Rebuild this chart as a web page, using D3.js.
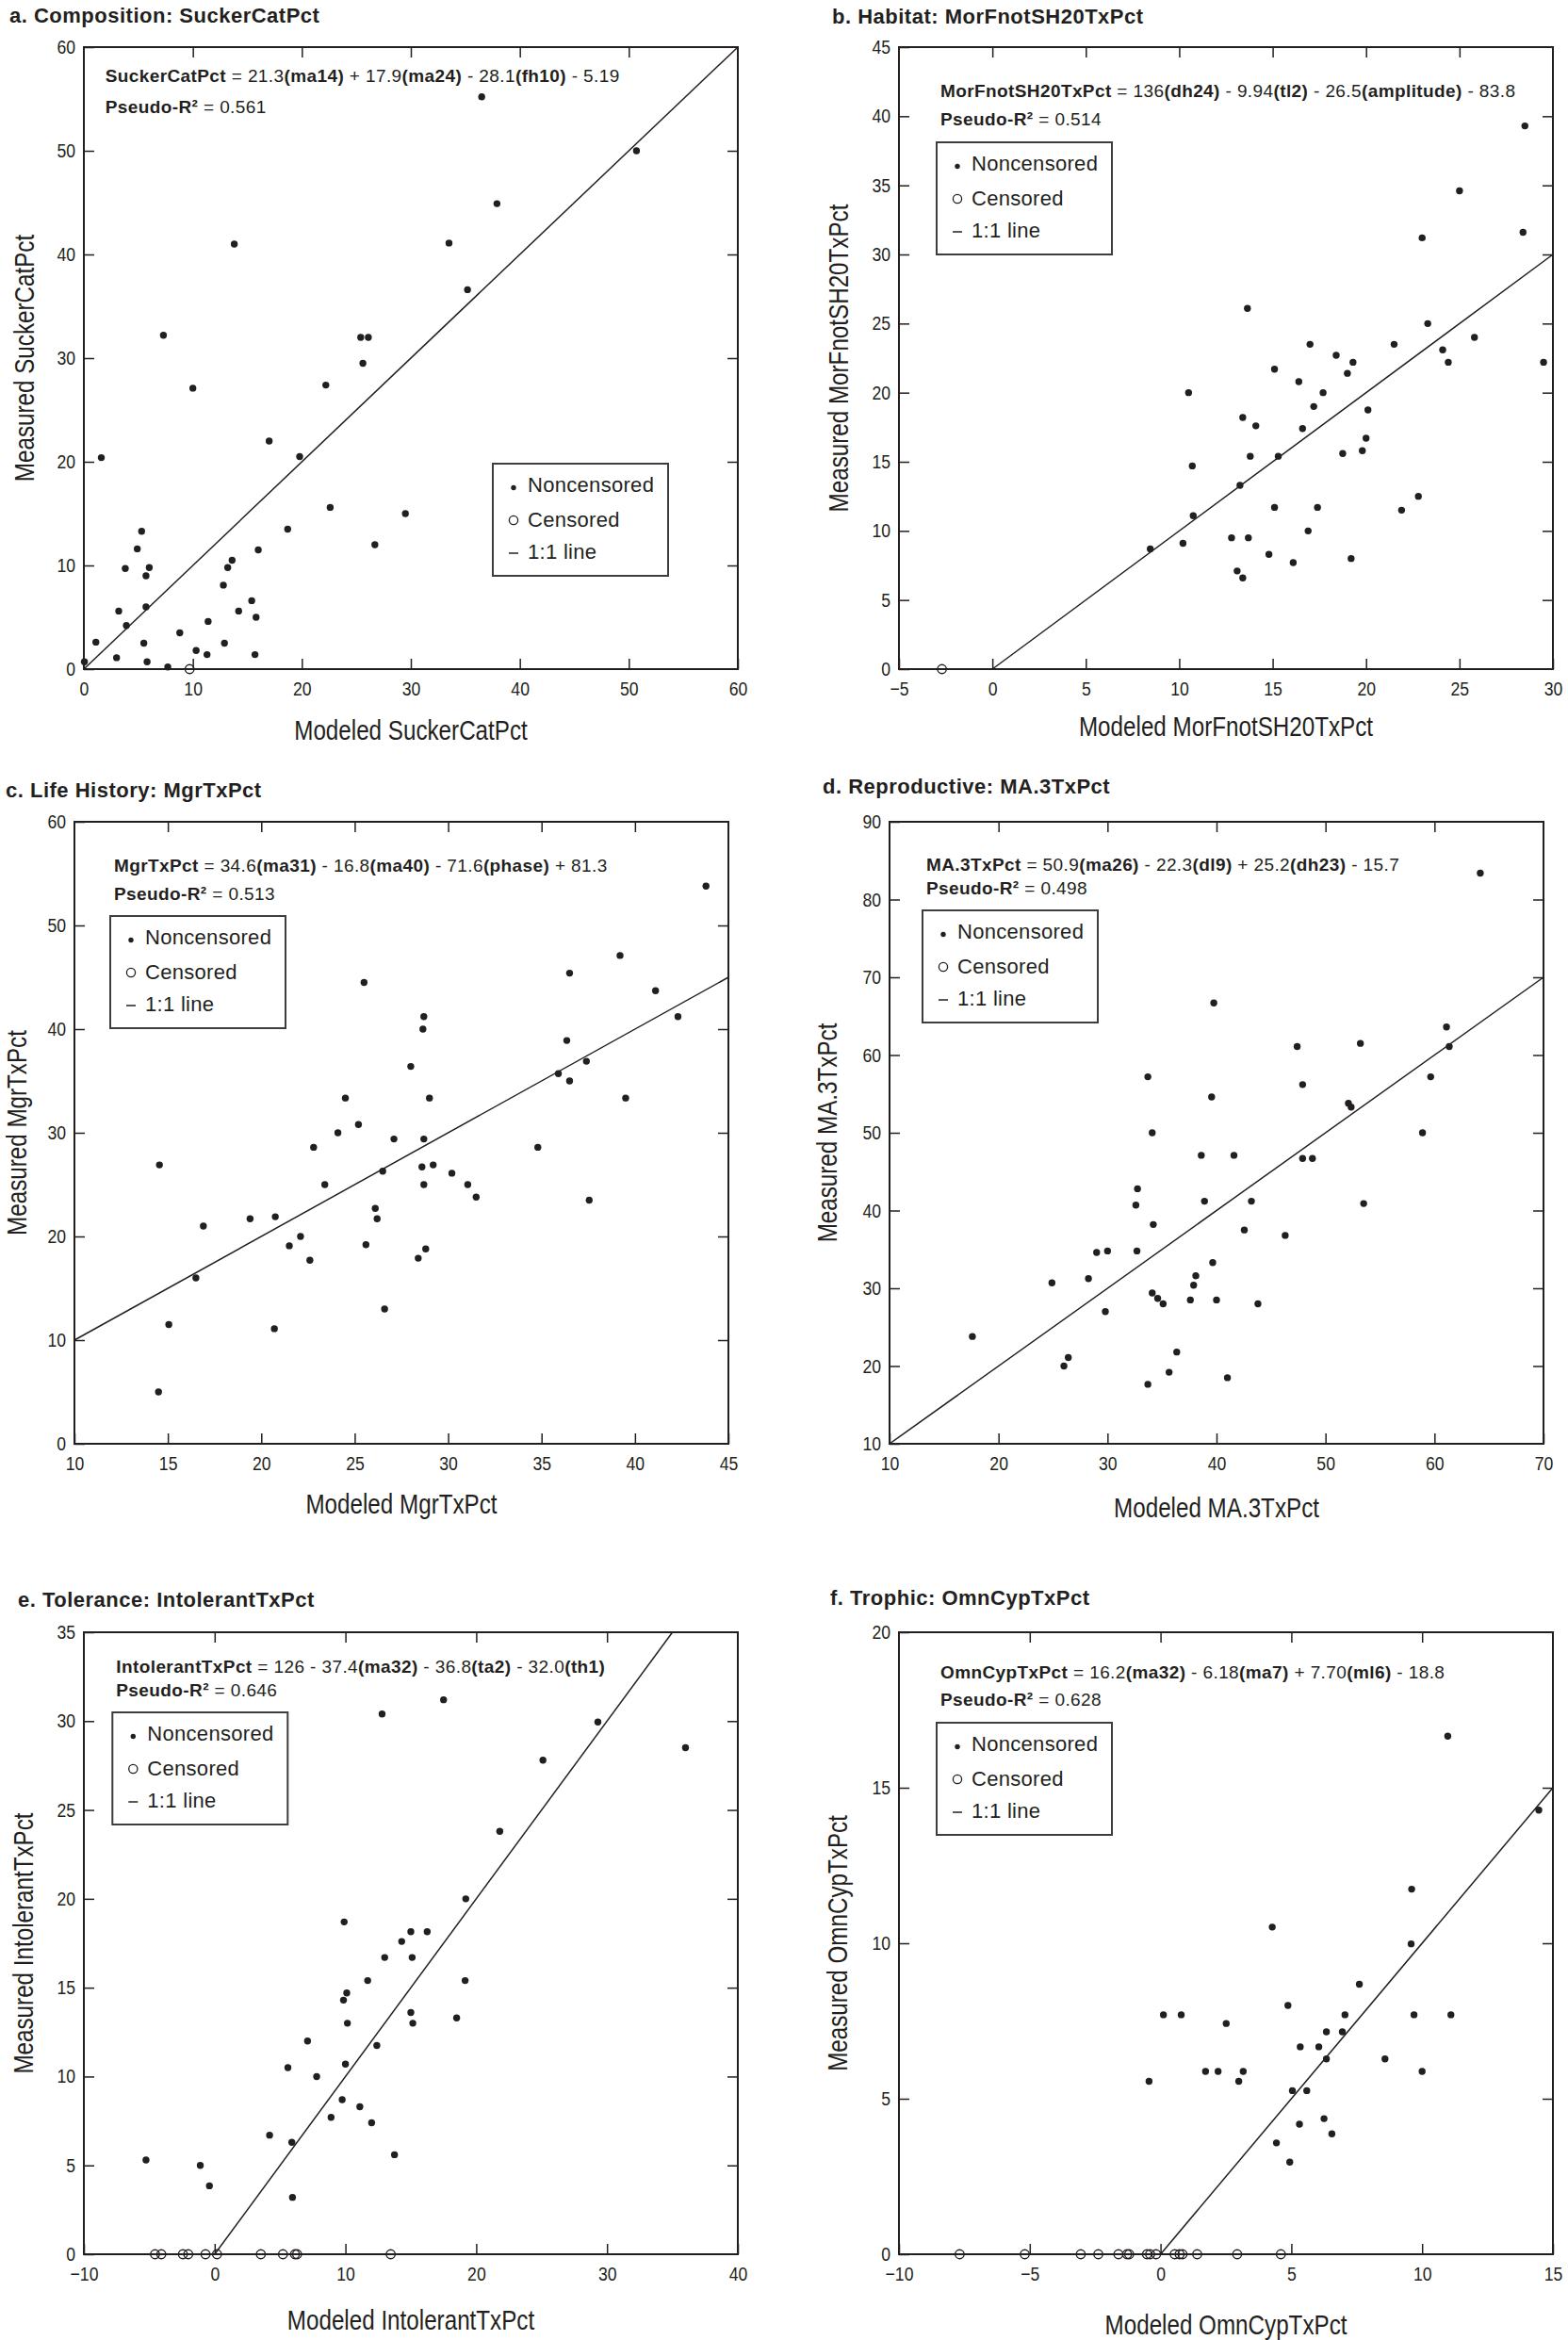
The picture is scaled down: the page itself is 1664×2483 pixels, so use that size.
<!DOCTYPE html>
<html>
<head>
<meta charset="utf-8">
<script src="https://cdn.jsdelivr.net/npm/d3@7"></script>
<style>
  body { margin: 0; background: #fff; }
  svg text { font-family: "Liberation Sans", Arial, Helvetica, sans-serif; fill: #231f20; white-space: pre; }
</style>
</head>
<body>
<div class="canvas"></div>
<script>
// ---------- data ----------
// a. Composition: SuckerCatPct
const aModeled  = [36.5, 50.7, 37.9, 33.5, 13.8, 35.2, 7.3, 25.4, 26.1, 25.6, 10.0, 22.2, 17.0, 19.8, 1.6, 22.6, 29.5, 18.7, 5.3, 26.7, 4.9, 16.0, 13.6, 3.8, 6.0, 5.7, 13.2, 12.8, 3.2, 5.7, 15.4, 14.2, 15.8, 3.9, 11.4, 8.8, 1.1, 5.5, 12.9, 10.3, 11.3, 3.0, 15.7, 5.8, 7.7, 0.05];
const aMeasured = [55.2, 50.0, 44.9, 41.1, 41.0, 36.6, 32.2, 32.0, 32.0, 29.5, 27.1, 27.4, 22.0, 20.5, 20.4, 15.6, 15.0, 13.5, 13.3, 12.0, 11.6, 11.5, 10.5, 9.7, 9.8, 9.0, 9.8, 8.1, 5.6, 6.0, 6.6, 5.6, 5.0, 4.2, 4.6, 3.5, 2.6, 2.5, 2.5, 1.8, 1.4, 1.1, 1.4, 0.7, 0.2, 0.7];
const aCensored = [9.7];
const aXTicks = [0, 10, 20, 30, 40, 50, 60];
const aYTicks = [0, 10, 20, 30, 40, 50, 60];

// b. Habitat: MorFnotSH20TxPct
const bModeled  = [28.5, 25.0, 28.4, 23.0, 13.65, 23.3, 25.8, 17.0, 21.5, 18.4, 24.1, 24.4, 19.3, 29.5, 15.1, 19.0, 16.4, 10.5, 17.7, 17.2, 20.1, 13.4, 14.1, 16.6, 20.0, 18.75, 19.8, 13.8, 15.3, 10.7, 13.25, 22.8, 15.1, 17.4, 21.9, 10.75, 16.9, 12.8, 13.7, 10.2, 8.45, 14.8, 19.2, 16.1, 13.1, 13.4];
const bMeasured = [39.3, 34.6, 31.6, 31.2, 26.1, 25.0, 24.0, 23.5, 23.5, 22.7, 23.1, 22.2, 22.2, 22.2, 21.7, 21.4, 20.8, 20.0, 20.0, 19.0, 18.75, 18.2, 17.6, 17.4, 16.7, 15.6, 15.8, 15.4, 15.4, 14.7, 13.3, 12.5, 11.7, 11.7, 11.5, 11.1, 10.0, 9.5, 9.5, 9.1, 8.7, 8.3, 8.0, 7.7, 7.1, 6.6];
const bCensored = [-2.7];
const bXTicks = [-5, 0, 5, 10, 15, 20, 25, 30];
const bYTicks = [0, 5, 10, 15, 20, 25, 30, 35, 40, 45];

// c. Life History: MgrTxPct
const cModeled  = [43.8, 39.2, 36.5, 25.5, 41.1, 42.3, 28.7, 28.65, 36.35, 37.4, 28.0, 35.9, 36.5, 24.5, 29.0, 39.5, 25.2, 24.1, 27.1, 28.7, 22.8, 34.8, 14.55, 29.2, 28.6, 26.5, 30.2, 23.4, 28.7, 31.05, 31.5, 37.55, 26.1, 19.4, 20.75, 26.2, 16.9, 22.1, 21.5, 25.6, 22.6, 28.4, 28.8, 16.5, 15.05, 20.7, 26.6, 14.5];
const cMeasured = [53.8, 47.1, 45.4, 44.5, 43.7, 41.2, 41.2, 40.0, 38.9, 36.9, 36.4, 35.7, 35.0, 33.35, 33.35, 33.35, 30.8, 30.0, 29.4, 29.4, 28.6, 28.6, 26.9, 26.9, 26.7, 26.3, 26.1, 25.0, 25.0, 25.0, 23.8, 23.5, 22.7, 21.7, 21.9, 21.7, 21.0, 20.0, 19.1, 19.2, 17.7, 17.9, 18.8, 16.0, 11.5, 11.1, 13.0, 5.0];
const cCensored = [];
const cXTicks = [10, 15, 20, 25, 30, 35, 40, 45];
const cYTicks = [0, 10, 20, 30, 40, 50, 60];

// d. Reproductive: MA.3TxPct
const dModeled  = [64.2, 39.75, 61.1, 53.2, 47.4, 61.35, 33.7, 59.65, 47.9, 39.55, 52.1, 52.35, 34.1, 58.9, 38.6, 41.6, 47.9, 48.8, 32.75, 32.6, 38.9, 43.2, 53.5, 34.2, 42.55, 46.3, 29.0, 30.0, 32.7, 39.65, 24.9, 28.25, 38.1, 37.9, 34.1, 34.6, 35.1, 37.6, 40.0, 43.8, 29.8, 17.6, 26.4, 26.0, 36.35, 35.65, 41.0, 33.7];
const dMeasured = [83.4, 66.7, 63.6, 61.5, 61.1, 61.1, 57.2, 57.2, 56.2, 54.6, 53.8, 53.3, 50.0, 50.0, 47.1, 47.1, 46.7, 46.7, 42.8, 40.7, 41.2, 41.2, 40.9, 38.2, 37.5, 36.8, 34.6, 34.8, 34.8, 33.3, 30.7, 31.25, 31.6, 30.4, 29.4, 28.7, 28.0, 28.5, 28.5, 28.0, 27.0, 23.8, 21.1, 20.0, 21.8, 19.2, 18.5, 17.65];
const dCensored = [];
const dXTicks = [10, 20, 30, 40, 50, 60, 70];
const dYTicks = [10, 20, 30, 40, 50, 60, 70, 80, 90];

// e. Tolerance: IntolerantTxPct
const eModeled  = [17.5, 12.8, 29.3, 36.0, 25.1, 21.8, 19.2, 9.9, 15.0, 16.25, 14.3, 13.0, 15.1, 11.7, 19.15, 10.1, 9.85, 15.0, 18.5, 10.15, 15.15, 7.1, 12.4, 5.6, 7.8, 10.0, 9.75, 11.1, 8.9, 12.0, 4.2, 5.9, 13.75, -5.25, -1.1, -0.4, 5.95];
const eMeasured = [31.2, 30.4, 29.95, 28.5, 27.8, 23.8, 20.0, 18.7, 18.15, 18.15, 17.6, 16.7, 16.7, 15.4, 15.4, 14.7, 14.3, 13.6, 13.3, 13.0, 13.0, 12.0, 11.75, 10.5, 10.0, 10.7, 8.7, 8.3, 7.7, 7.4, 6.7, 6.3, 5.6, 5.3, 5.0, 3.85, 3.2];
const eCensored = [-4.56, -4.08, -2.43, -2.02, -0.7, 0.18, 3.53, 5.22, 6.14, 6.3, 13.46];
const eXTicks = [-10, 0, 10, 20, 30, 40];
const eYTicks = [0, 5, 10, 15, 20, 25, 30, 35];

// f. Trophic: OmnCypTxPct
const fModeled  = [10.98, 14.46, 9.6, 4.27, 9.58, 7.6, 4.87, 0.11, 0.79, 7.05, 9.69, 11.1, 2.51, 6.34, 6.95, 5.34, 6.05, 6.34, 8.58, 1.72, 2.2, 3.16, 10.0, -0.44, 2.99, 5.04, 5.59, 6.25, 5.31, 6.55, 4.43, 4.94];
const fMeasured = [16.66, 14.28, 11.74, 10.52, 9.98, 8.68, 8.0, 7.7, 7.7, 7.7, 7.7, 7.7, 7.42, 7.15, 7.15, 6.67, 6.67, 6.28, 6.28, 5.88, 5.88, 5.88, 5.88, 5.56, 5.56, 5.26, 5.26, 4.36, 4.18, 3.87, 3.58, 2.96];
const fCensored = [-7.68, -5.19, -3.05, -2.38, -1.61, -1.28, -1.2, -0.52, -0.4, -0.17, 0.54, 0.73, 0.84, 1.40, 2.93, 4.60];
const fXTicks = [-10, -5, 0, 5, 10, 15];
const fYTicks = [0, 5, 10, 15, 20];

// texts (** marks bold)
const titles = ['a. Composition: SuckerCatPct', 'b. Habitat: MorFnotSH20TxPct', 'c. Life History: MgrTxPct',
                'd. Reproductive: MA.3TxPct', 'e. Tolerance: IntolerantTxPct', 'f. Trophic: OmnCypTxPct'];
const equations = [
  '**SuckerCatPct** = 21.3**(ma14)** + 17.9**(ma24)** - 28.1**(fh10)** - 5.19',
  '**MorFnotSH20TxPct** = 136**(dh24)** - 9.94**(tl2)** - 26.5**(amplitude)** - 83.8',
  '**MgrTxPct** = 34.6**(ma31)** - 16.8**(ma40)** - 71.6**(phase)** + 81.3',
  '**MA.3TxPct** = 50.9**(ma26)** - 22.3**(dl9)** + 25.2**(dh23)** - 15.7',
  '**IntolerantTxPct** = 126 - 37.4**(ma32)** - 36.8**(ta2)** - 32.0**(th1)**',
  '**OmnCypTxPct** = 16.2**(ma32)** - 6.18**(ma7)** + 7.70**(ml6)** - 18.8'
];
const pseudoR2 = ['0.561', '0.514', '0.513', '0.498', '0.646', '0.628'];
const varNames = ['SuckerCatPct', 'MorFnotSH20TxPct', 'MgrTxPct', 'MA.3TxPct', 'IntolerantTxPct', 'OmnCypTxPct'];
const legendLabels = ['Noncensored', 'Censored', '1:1 line'];

// ---------- layout ----------
const svg = d3.select('.canvas')
  .append('svg')
    .attr('width', 1664)
    .attr('height', 2483);

svg.append('rect').attr('width', 1664).attr('height', 2483).attr('fill', '#fff');

const ink = '#231f20';
const plotW = 694, plotH = 660;

const panels = [
  {xs: aModeled, ys: aMeasured, cens: aCensored, xTicks: aXTicks, yTicks: aYTicks,
   left: 89, top: 50, titleX: 10, titleY: 23.5, eqX: 22.7, eqY: 36.7, r2Y: 69.5, legX: 434, legY: 442, xLabDy: 75, yLabDx: -63},
  {xs: bModeled, ys: bMeasured, cens: bCensored, xTicks: bXTicks, yTicks: bYTicks,
   left: 954, top: 50, titleX: 883, titleY: 25, eqX: 44, eqY: 52.5, r2Y: 83, legX: 40, legY: 101, xLabDy: 71, yLabDx: -64},
  {xs: cModeled, ys: cMeasured, cens: cCensored, xTicks: cXTicks, yTicks: cYTicks,
   left: 79, top: 872, titleX: 6, titleY: 846, eqX: 42, eqY: 53, r2Y: 83, legX: 38, legY: 100, xLabDy: 74, yLabDx: -61},
  {xs: dModeled, ys: dMeasured, cens: dCensored, xTicks: dXTicks, yTicks: dYTicks,
   left: 944, top: 872, titleX: 873, titleY: 842, eqX: 39, eqY: 52, r2Y: 77, legX: 35, legY: 94, xLabDy: 78, yLabDx: -66},
  {xs: eModeled, ys: eMeasured, cens: eCensored, xTicks: eXTicks, yTicks: eYTicks,
   left: 89, top: 1732, titleX: 19, titleY: 1705, eqX: 34.3, eqY: 42.6, r2Y: 68, legX: 30.3, legY: 85, xLabDy: 80, yLabDx: -64},
  {xs: fModeled, ys: fMeasured, cens: fCensored, xTicks: fXTicks, yTicks: fYTicks,
   left: 954, top: 1732, titleX: 881, titleY: 1703, eqX: 44, eqY: 48.5, r2Y: 78, legX: 40, legY: 96, xLabDy: 85, yLabDx: -65}
];

// text with **bold** segments
function richText(sel, str) {
  str.split('**').forEach((s, i) => {
    if (s) sel.append('tspan').attr('font-weight', i % 2 ? 'bold' : 'normal').text(s);
  });
}

// horizontally condensed tick labels
function condense(sel, k) {
  sel.each(function() {
    const t = d3.select(this);
    const x = +t.attr('x') || 0;
    t.attr('x', x / k).attr('transform', `scale(${k},1)`);
  });
}

panels.forEach((p, i) => {
  // title
  svg.append('text')
    .attr('x', p.titleX)
    .attr('y', p.titleY)
    .attr('font-size', 22)
    .attr('font-weight', 'bold')
    .attr('letter-spacing', 0.5)
    .text(titles[i]);

  const graph = svg.append('g')
    .attr('transform', `translate(${p.left},${p.top})`);

  const x = d3.scaleLinear().domain(d3.extent(p.xTicks)).range([0, plotW]);
  const y = d3.scaleLinear().domain(d3.extent(p.yTicks)).range([plotH, 0]);

  // axes, ticks pointing inward on all sides
  const styleAxis = g => {
    g.select('.domain').remove();
    g.selectAll('.tick line').attr('stroke', ink).attr('stroke-width', 1.5);
    g.selectAll('.tick text').attr('fill', ink).attr('font-size', 20.5)
      .attr('font-family', '"Liberation Sans", Arial, sans-serif');
  };

  const xAxisGroup = graph.append('g').attr('transform', `translate(0,${plotH})`)
    .call(d3.axisBottom(x).tickValues(p.xTicks).tickSizeInner(-11).tickSizeOuter(0).tickPadding(13.5))
    .call(styleAxis);
  const yAxisGroup = graph.append('g')
    .call(d3.axisLeft(y).tickValues(p.yTicks).tickSizeInner(-11).tickSizeOuter(0).tickPadding(9))
    .call(styleAxis);
  graph.append('g')
    .call(d3.axisTop(x).tickValues(p.xTicks.slice(1, -1)).tickSizeInner(-11).tickSizeOuter(0).tickFormat(''))
    .call(styleAxis);
  graph.append('g').attr('transform', `translate(${plotW},0)`)
    .call(d3.axisRight(y).tickValues(p.yTicks.slice(1, -1)).tickSizeInner(-11).tickSizeOuter(0).tickFormat(''))
    .call(styleAxis);

  condense(xAxisGroup.selectAll('.tick text'), 0.86);
  condense(yAxisGroup.selectAll('.tick text'), 0.86);

  // 1:1 line
  const lo = Math.max(x.domain()[0], y.domain()[0]);
  const hi = Math.min(x.domain()[1], y.domain()[1]);
  graph.append('line')
    .attr('x1', x(lo)).attr('y1', y(lo))
    .attr('x2', x(hi)).attr('y2', y(hi))
    .attr('stroke', ink)
    .attr('stroke-width', 1.5);

  // noncensored points
  graph.selectAll('circle.nc')
    .data(p.xs.map((v, j) => ({m: v, o: p.ys[j]})))
    .enter()
    .append('circle')
      .attr('class', 'nc')
      .attr('cx', d => x(d.m))
      .attr('cy', d => y(d.o))
      .attr('r', 3.7)
      .attr('fill', ink);

  // censored points (measured = 0)
  graph.selectAll('circle.cens')
    .data(p.cens)
    .enter()
    .append('circle')
      .attr('class', 'cens')
      .attr('cx', d => x(d))
      .attr('cy', y(0))
      .attr('r', 4.7)
      .attr('fill', 'none')
      .attr('stroke', ink)
      .attr('stroke-width', 1.4);

  // frame
  graph.append('rect')
    .attr('width', plotW)
    .attr('height', plotH)
    .attr('fill', 'none')
    .attr('stroke', ink)
    .attr('stroke-width', 2);

  // equation + pseudo R2
  const eq = graph.append('text')
    .attr('x', p.eqX).attr('y', p.eqY)
    .attr('font-size', 19)
    .attr('letter-spacing', 0.4);
  richText(eq, equations[i]);
  const r2 = graph.append('text')
    .attr('x', p.eqX).attr('y', p.r2Y)
    .attr('font-size', 19)
    .attr('letter-spacing', 0.4);
  richText(r2, '**Pseudo-R\u00B2** = ' + pseudoR2[i]);

  // legend
  const leg = graph.append('g').attr('transform', `translate(${p.legX},${p.legY})`);
  leg.append('rect')
    .attr('width', 186).attr('height', 119)
    .attr('fill', '#fff')
    .attr('stroke', '#3d3d3d')
    .attr('stroke-width', 2);
  leg.append('circle').attr('cx', 22).attr('cy', 25.5).attr('r', 2.7).attr('fill', ink);
  leg.append('circle').attr('cx', 22).attr('cy', 60).attr('r', 4.6)
    .attr('fill', 'none').attr('stroke', ink).attr('stroke-width', 1.3);
  leg.append('line').attr('x1', 17).attr('x2', 27).attr('y1', 95).attr('y2', 95)
    .attr('stroke', ink).attr('stroke-width', 1.5);
  leg.selectAll('text')
    .data(legendLabels)
    .enter()
    .append('text')
      .attr('x', 37)
      .attr('y', (d, j) => [29.5, 66.7, 101][j])
      .attr('font-size', 22)
      .attr('letter-spacing', 0.3)
      .text(d => d);

  // axis titles (condensed face)
  graph.append('text')
    .attr('transform', `translate(${plotW / 2},${plotH + p.xLabDy}) scale(0.835,1)`)
    .attr('text-anchor', 'middle')
    .attr('font-size', 29)
    .text('Modeled ' + varNames[i]);
  graph.append('text')
    .attr('transform', `translate(${p.yLabDx},${plotH / 2}) rotate(-90) scale(0.835,1)`)
    .attr('text-anchor', 'middle')
    .attr('dy', '0.36em')
    .attr('font-size', 29)
    .text('Measured ' + varNames[i]);
});
</script>
</body>
</html>
